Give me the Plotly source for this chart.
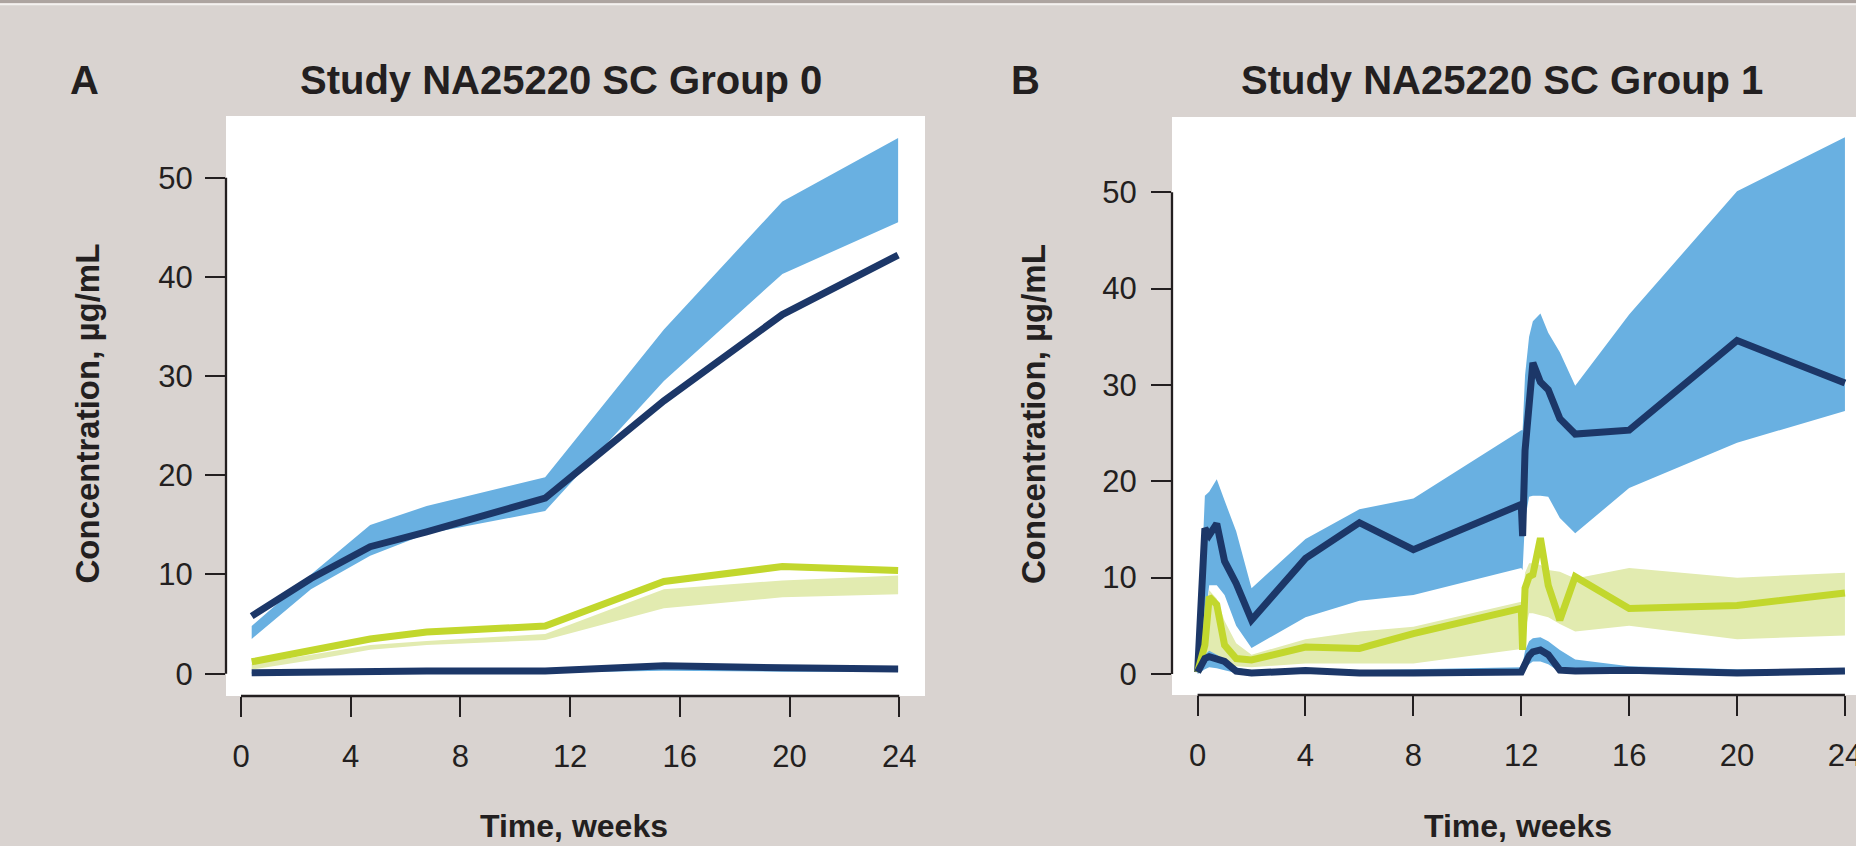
import plotly.graph_objects as go

W, H = 1856, 846

# ---------------- Panel A data (Study NA25220 SC Group 0) ----------------
tA = [0.39, 2.55, 4.71, 6.77, 11.09, 15.42, 19.74, 23.96]
a_hi_line = [5.8, 9.6, 12.8, 14.3, 17.7, 27.5, 36.2, 42.2]
a_hi_upper = [4.8, 10.0, 15.0, 16.9, 19.8, 34.7, 47.6, 54.0]
a_hi_lower = [3.5, 8.5, 11.9, 14.1, 16.4, 29.5, 40.3, 45.5]
a_mid_line = [1.2, 2.3, 3.5, 4.2, 4.8, 9.3, 10.8, 10.4]
a_mid_upper = [1.0, 1.9, 2.9, 3.3, 4.0, 8.5, 9.4, 9.9]
a_mid_lower = [0.4, 1.35, 2.4, 2.9, 3.4, 6.6, 7.7, 8.0]
a_lo_line = [0.1, 0.2, 0.27, 0.27, 0.27, 0.8, 0.6, 0.46]
a_lo_upper = [0.2, 0.3, 0.35, 0.35, 0.35, 0.9, 0.7, 0.55]
a_lo_lower = [0.0, 0.05, 0.1, 0.1, 0.1, 0.3, 0.2, 0.2]

# ---------------- Panel B data (Study NA25220 SC Group 1) ----------------
tB = [0, 0.27, 0.43, 0.71, 1.0, 1.43, 2.0, 4.0, 6.0, 8.0, 12.0, 12.05, 12.14,
      12.29, 12.43, 12.71, 13.0, 13.43, 14.0, 16.0, 20.0, 24.0]
b_hi_line = [0.2, 15.1, 14.4, 15.6, 11.7, 9.4, 5.6, 12.0, 15.7, 12.9, 17.6, 14.3, 23.2,
             28.0, 32.3, 30.3, 29.5, 26.5, 24.9, 25.3, 34.6, 30.2]
b_hi_upper = [0.5, 18.5, 18.9, 20.2, 18.0, 14.8, 8.9, 14.0, 17.1, 18.2, 25.3, 25.3, 31.0,
              35.0, 36.6, 37.4, 35.4, 33.4, 29.9, 37.3, 50.1, 55.7]
b_hi_lower = [0.2, 5.5, 9.2, 9.2, 8.2, 5.0, 2.7, 5.9, 7.6, 8.2, 11.0, 10.8, 16.0,
              18.4, 18.5, 18.5, 18.4, 16.2, 14.6, 19.3, 24.0, 27.3]
b_mid_line = [0.2, 3.0, 8.0, 7.2, 3.0, 1.6, 1.45, 2.8, 2.65, 4.2, 6.8, 2.5, 8.9,
              10.1, 10.3, 14.1, 9.2, 5.6, 10.1, 6.8, 7.1, 8.4]
b_mid_upper = [0.3, 6.0, 8.7, 7.8, 5.5, 3.2, 2.0, 3.6, 4.4, 4.9, 7.5, 7.5, 10.5,
               11.5, 11.5, 11.3, 10.8, 10.6, 9.9, 11.0, 10.0, 10.5]
b_mid_lower = [0.1, 0.8, 1.2, 1.0, 0.9, 0.8, 0.7, 1.1, 1.1, 1.1, 2.6, 2.4, 4.5,
               6.3, 6.3, 6.1, 5.9, 5.2, 4.4, 5.0, 3.6, 4.0]
b_lo_line = [0.2, 1.6, 1.8, 1.5, 1.3, 0.3, 0.1, 0.35, 0.1, 0.1, 0.2, 0.5, 1.2,
             1.9, 2.3, 2.5, 2.0, 0.4, 0.3, 0.4, 0.1, 0.3]
b_lo_upper = [0.3, 2.0, 2.4, 2.0, 1.5, 0.7, 0.3, 0.5, 0.4, 0.5, 0.7, 1.0, 2.4,
              3.4, 3.7, 3.8, 3.4, 2.5, 1.5, 0.8, 0.5, 0.5]
b_lo_lower = [0.0, 0.5, 0.7, 0.6, 0.4, 0.1, 0.0, 0.05, 0.0, 0.0, 0.0, 0.0, 0.6,
              1.0, 1.3, 1.3, 1.0, 0.2, 0.1, 0.05, 0.0, 0.0]

x_ticks = [0, 4, 8, 12, 16, 20, 24]
y_ticks = [0, 10, 20, 30, 40, 50]
titles = ["Study NA25220 SC Group 0", "Study NA25220 SC Group 1"]
letters = ["A", "B"]
x_title = "Time, weeks"
y_title = "Concentration, µg/mL"

# ---------------- styles ----------------
BG = "#d9d3d0"
NAVY = "#1c3768"
BLUE = "#69b0e1"
LIME = "#c2d72d"
LIME_L = "#e2ebb0"
INK = "#231f20"
FONT = "Liberation Sans, Arial, Helvetica, sans-serif"
LW = 7


def px_x(p):
    return p / W


def px_y(p):
    return 1 - p / H


# layout geometry (pixels)
domA_x = [px_x(226), px_x(925)]
domA_y = [px_y(696), px_y(116)]
rngA_x = [-0.547, 24.94]
rngA_y = [-2.25, 56.22]
domB_x = [px_x(1172), 1.0]
domB_y = [px_y(695), px_y(117)]
rngB_x = [-0.949, 24.41]
rngB_y = [-2.18, 57.8]

fig = go.Figure()


def band(t, up, lo, color, xa, ya):
    fig.add_trace(go.Scatter(
        x=list(t) + list(t)[::-1], y=list(up) + list(lo)[::-1],
        fill="toself", fillcolor=color, mode="none", line=dict(width=0),
        hoverinfo="skip", showlegend=False, xaxis=xa, yaxis=ya))


def line(t, v, color, xa, ya):
    fig.add_trace(go.Scatter(
        x=t, y=v, mode="lines", line=dict(color=color, width=LW),
        showlegend=False, xaxis=xa, yaxis=ya))


# Panel A
band(tA, a_hi_upper, a_hi_lower, BLUE, "x", "y")
band(tA, a_mid_upper, a_mid_lower, LIME_L, "x", "y")
band(tA, a_lo_upper, a_lo_lower, BLUE, "x", "y")
line(tA, a_hi_line, NAVY, "x", "y")
line(tA, a_mid_line, LIME, "x", "y")
line(tA, a_lo_line, NAVY, "x", "y")

# Panel B
band(tB, b_hi_upper, b_hi_lower, BLUE, "x2", "y2")
band(tB, b_mid_upper, b_mid_lower, LIME_L, "x2", "y2")
band(tB, b_lo_upper, b_lo_lower, BLUE, "x2", "y2")
line(tB, b_hi_line, NAVY, "x2", "y2")
line(tB, b_mid_line, LIME, "x2", "y2")
line(tB, b_lo_line, NAVY, "x2", "y2")

axis_common = dict(showgrid=False, zeroline=False, showline=False, ticks="outside",
                   ticklen=20, tickwidth=2.3, tickcolor=INK, ticklabeloverflow="allow",
                   automargin=False,
                   tickfont=dict(family=FONT, size=31, color=INK), fixedrange=True)

fig.update_layout(
    width=W, height=H,
    margin=dict(l=0, r=0, t=0, b=0, autoexpand=False),
    paper_bgcolor=BG, plot_bgcolor="white",
    xaxis=dict(domain=domA_x, range=rngA_x, tickvals=x_ticks, anchor="y",
               ticklabelstandoff=13, **axis_common),
    yaxis=dict(domain=domA_y, range=rngA_y, tickvals=y_ticks, anchor="x",
               ticklabelstandoff=6, **axis_common),
    xaxis2=dict(domain=domB_x, range=rngB_x, tickvals=x_ticks, anchor="y2",
                ticklabelstandoff=13, **axis_common),
    yaxis2=dict(domain=domB_y, range=rngB_y, tickvals=y_ticks, anchor="x2",
                ticklabelstandoff=8, **axis_common),
)


def to_paper(v, dom, rng):
    return dom[0] + (v - rng[0]) / (rng[1] - rng[0]) * (dom[1] - dom[0])


shapes = []
for dx, dy, rx, ry in [(domA_x, domA_y, rngA_x, rngA_y), (domB_x, domB_y, rngB_x, rngB_y)]:
    shapes.append(dict(type="line", xref="paper", yref="paper",
                       x0=to_paper(x_ticks[0], dx, rx), x1=to_paper(x_ticks[-1], dx, rx),
                       y0=dy[0], y1=dy[0], line=dict(color=INK, width=2.3)))
    shapes.append(dict(type="line", xref="paper", yref="paper",
                       x0=dx[0], x1=dx[0],
                       y0=to_paper(y_ticks[0], dy, ry), y1=to_paper(y_ticks[-1], dy, ry),
                       line=dict(color=INK, width=2.3)))
shapes.append(dict(type="rect", xref="paper", yref="paper", x0=0, x1=1,
                   y0=px_y(3.3), y1=1, fillcolor="#ada4a0", line=dict(width=0)))
shapes.append(dict(type="rect", xref="paper", yref="paper", x0=0, x1=1,
                   y0=px_y(5.3), y1=px_y(3.3), fillcolor="#f4f1ef", line=dict(width=0)))
fig.update_layout(shapes=shapes)

ann = []
title_pos = [(560.5, 80), (1501.5, 80)]
letter_pos = [(84.5, 80), (1025, 80)]
ytitle_pos = [(87.5, 414), (1034, 414)]
xtitle_x = [574, 1518]
for i in range(2):
    ann.append(dict(text="<b>%s</b>" % titles[i], x=px_x(title_pos[i][0]), y=px_y(title_pos[i][1]),
                    xref="paper", yref="paper", showarrow=False, xanchor="center", yanchor="middle",
                    font=dict(family=FONT, size=40, color=INK)))
    ann.append(dict(text="<b>%s</b>" % letters[i], x=px_x(letter_pos[i][0]), y=px_y(letter_pos[i][1]),
                    xref="paper", yref="paper", showarrow=False, xanchor="center", yanchor="middle",
                    font=dict(family=FONT, size=40, color=INK)))
    ann.append(dict(text="<b>%s</b>" % y_title, x=px_x(ytitle_pos[i][0]), y=px_y(ytitle_pos[i][1]),
                    xref="paper", yref="paper", showarrow=False, xanchor="center", yanchor="middle",
                    textangle=-90, font=dict(family=FONT, size=33, color=INK)))
    ann.append(dict(text="<b>%s</b>" % x_title, x=px_x(xtitle_x[i]), y=0,
                    xref="paper", yref="paper", showarrow=False, xanchor="center", yanchor="bottom",
                    font=dict(family=FONT, size=32, color=INK)))
fig.update_layout(annotations=ann)

post = (
    "document.body.style.margin='0';"
    "document.body.style.overflow='hidden';"
)
fig.write_html("out.html", config={"displayModeBar": False}, post_script=post)
